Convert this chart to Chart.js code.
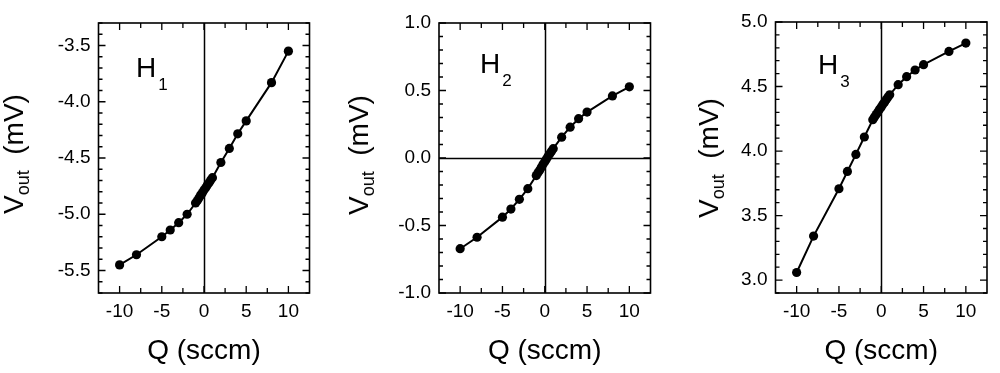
<!DOCTYPE html>
<html><head><meta charset="utf-8">
<script src="https://cdn.jsdelivr.net/npm/chart.js@4.4.0/dist/chart.umd.min.js"></script>
<style>
html,body{margin:0;padding:0;background:#fff;}
#wrap{position:relative;width:1000px;height:373px;overflow:hidden;font-family:"Liberation Sans",Arial,sans-serif;color:#000;}
canvas{position:absolute;top:0;}
.ylab{position:absolute;font-size:28px;line-height:1;transform:translate(-50%,-50%) rotate(-90deg);white-space:nowrap;}
.ylab sub{font-size:18px;vertical-align:-6px;}
.hlab{position:absolute;font-size:28px;line-height:1;white-space:nowrap;}
.hlab sub{font-size:17px;vertical-align:-13px;margin-left:2px;}
</style></head>
<body><div id="wrap">
<canvas id="c1" width="330" height="373" style="left:0px"></canvas>
<canvas id="c2" width="330" height="373" style="left:335px"></canvas>
<canvas id="c3" width="330" height="373" style="left:670px"></canvas>
<div class="ylab" style="left:16px;top:154px">V<sub>out</sub>&nbsp;&nbsp;(mV)</div>
<div class="ylab" style="left:361px;top:155px">V<sub>out</sub>&nbsp;&nbsp;(mV)</div>
<div class="ylab" style="left:711px;top:158px">V<sub>out</sub>&nbsp;&nbsp;(mV)</div>
<div class="hlab" style="left:136px;top:54px">H<sub>1</sub></div>
<div class="hlab" style="left:480px;top:50px">H<sub>2</sub></div>
<div class="hlab" style="left:818px;top:51px">H<sub>3</sub></div>
</div>
<script>
// Flow rate Q (sccm)
const q = [-10,-8,-5,-4,-3,-2,-1,-0.8,-0.6,-0.4,-0.2,0,0.2,0.4,0.6,0.8,1,2,3,4,5,8,10];
// Output voltages (mV)
const h1 = [-5.45,-5.36,-5.20,-5.14,-5.075,-5.00,-4.90,-4.88,-4.855,-4.83,-4.81,-4.785,-4.765,-4.74,-4.72,-4.695,-4.675,-4.54,-4.415,-4.285,-4.17,-3.83,-3.55];
const h2 = [-0.672,-0.587,-0.438,-0.378,-0.306,-0.227,-0.13,-0.11,-0.09,-0.068,-0.047,-0.027,-0.007,0.013,0.032,0.05,0.069,0.154,0.228,0.291,0.34,0.46,0.527];
const h3 = [3.059,3.341,3.708,3.842,3.974,4.109,4.243,4.263,4.283,4.303,4.323,4.342,4.362,4.381,4.40,4.418,4.436,4.514,4.576,4.628,4.669,4.772,4.837];
// Tick labels
const xTicks = [-10,-5,0,5,10];
const xMinor = [-10,-7.5,-5,-2.5,0,2.5,5,7.5,10];
const y1Ticks = [-5.5,-5.0,-4.5,-4.0,-3.5];
const y2Ticks = [-1.0,-0.5,0.0,0.5,1.0];
const y3Ticks = [3.0,3.5,4.0,4.5,5.0];

function minorList(lo, hi){ const r=[]; for(let i=Math.round(lo*10);i<=Math.round(hi*10);i++) r.push(i/10); return r; }

const frame = {
  id:'frame',
  beforeDatasetsDraw(chart, args, opts){
    const {ctx, chartArea:a, scales:{x,y}} = chart;
    ctx.save();
    ctx.strokeStyle='#000';
    ctx.lineWidth=1.5;
    ctx.beginPath();
    const x0 = Math.round(x.getPixelForValue(0))+0.5;
    ctx.moveTo(x0,a.top); ctx.lineTo(x0,a.bottom);
    if (opts.hZero){ const y0=Math.round(y.getPixelForValue(0))+0.5; ctx.moveTo(a.left,y0); ctx.lineTo(a.right,y0); }
    ctx.stroke();
    ctx.lineWidth=1.3;
    ctx.beginPath();
    xMinor.forEach(v=>{
      const px = x.getPixelForValue(v);
      const L = (Math.abs(v%5)<1e-9)?7:5;
      ctx.moveTo(px,a.bottom); ctx.lineTo(px,a.bottom-L);
      ctx.moveTo(px,a.top); ctx.lineTo(px,a.top+L);
    });
    const maj = opts.yMajor;
    opts.yMinor.forEach(v=>{
      const py = y.getPixelForValue(v);
      if (py < a.top-0.5 || py > a.bottom+0.5) return;
      const isMaj = maj.some(m=>Math.abs(m-v)<1e-6);
      const L = isMaj?7:4;
      ctx.moveTo(a.left,py); ctx.lineTo(a.left+L,py);
      ctx.moveTo(a.right,py); ctx.lineTo(a.right-L,py);
    });
    ctx.stroke();
    ctx.lineWidth=1.6;
    ctx.strokeRect(a.left,a.top,a.width,a.height);
    ctx.restore();
  }
};

function makeChart(id, vals, yMin, yMax, yMajor, yAxisW, padRight, padTop, hZero){
  const ctx = document.getElementById(id);
  return new Chart(ctx, {
    type:'scatter',
    data:{datasets:[{
      data: q.map((v,i)=>({x:v,y:vals[i]})),
      showLine:true,
      borderColor:'#000', backgroundColor:'#000',
      borderWidth:2, pointRadius:4.6, pointHoverRadius:4.6,
      pointBorderWidth:0, tension:0
    }]},
    options:{
      responsive:false, animation:false, devicePixelRatio:1,
      layout:{padding:{top:padTop,right:padRight,left:0,bottom:0}},
      plugins:{legend:{display:false},tooltip:{enabled:false},
        frame:{hZero:hZero,yMajor:yMajor,yMinor:minorList(yMin,yMax)}},
      scales:{
        x:{type:'linear',min:-12.5,max:12.5,
          afterBuildTicks:s=>{s.ticks=xTicks.map(v=>({value:v}));},
          afterFit:s=>{s.height=80;},
          grid:{display:false,drawTicks:false},border:{display:false},
          ticks:{color:'#000',font:{family:'"Liberation Sans", Arial',size:19},padding:7,maxRotation:0,callback:v=>String(v)},
          title:{display:true,text:'Q (sccm)',color:'#000',font:{family:'"Liberation Sans", Arial',size:28},padding:{top:0,bottom:5}}
        },
        y:{type:'linear',min:yMin,max:yMax,
          afterBuildTicks:s=>{s.ticks=yMajor.map(v=>({value:v}));},
          afterFit:s=>{s.width=yAxisW;},
          grid:{display:false,drawTicks:false},border:{display:false},
          ticks:{color:'#000',font:{family:'"Liberation Sans", Arial',size:19},padding:8,callback:v=>Number(v).toFixed(1)}
        }
      }
    },
    plugins:[frame]
  });
}
makeChart('c1', h1, -5.7, -3.3, y1Ticks, 98.5, 20.5, 23, false);
makeChart('c2', h2, -1.0, 1.0, y2Ticks, 104, 14.5, 23, true);
makeChart('c3', h3, 2.9, 5.0, y3Ticks, 105.5, 13, 22, false);
</script>
</body></html>
